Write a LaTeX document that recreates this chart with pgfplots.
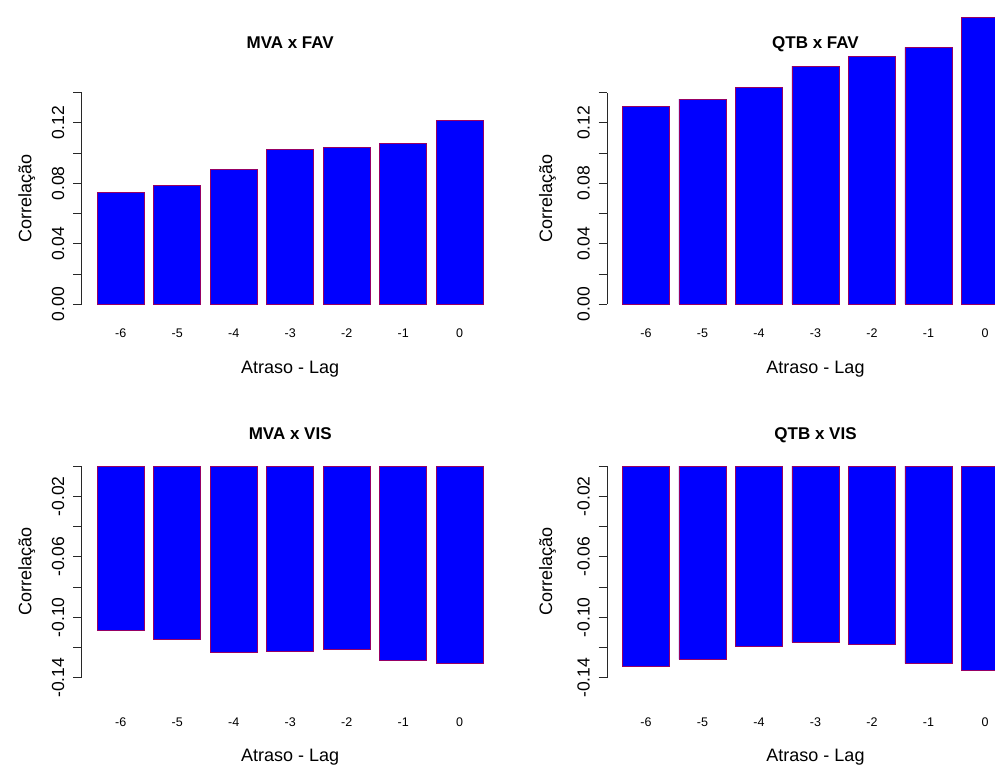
\documentclass[border=0pt]{standalone}
\usepackage{fontspec}
\setmainfont{Liberation Sans}
\usepackage{pgfplots}
\pgfplotsset{compat=1.18}
\definecolor{barblue}{RGB}{0,0,255}
\definecolor{barborder}{RGB}{150,0,100}
\definecolor{axisgray}{RGB}{40,40,40}
\tikzset{
  rtitle/.style={at={(axis description cs:0.5,1)}, anchor=center, text height=12.2pt, text depth=0pt, inner sep=0pt, yshift=#1, font=\bfseries\fontsize{17}{20}\selectfont},
}
\pgfplotsset{
  rpanel/.style={
    scale only axis, width=417pt, height=211.6pt,
    xmin=-0.69, xmax=6.69,
    axis x line*=bottom, axis y line*=left,
    x axis line style={draw=none},
    y axis line style={axisgray, line width=0.9pt},
    xtick={0,1,2,3,4,5,6}, xticklabels={-6,-5,-4,-3,-2,-1,0},
    xtick style={draw=none},
    ytick style={axisgray, line width=0.9pt},
    tick align=outside, major tick length=8.5pt, minor tick num=0,
    xticklabel style={font=\fontsize{12.5}{14}\selectfont, text height=9pt, text depth=0pt, inner sep=0pt, anchor=center, yshift=-19.9pt},
    yticklabel style={font=\fontsize{17.5}{20}\selectfont, xshift=-15pt, rotate=90, anchor=center},
    enlargelimits=false, clip=false,
    ybar, bar width=0.8333,
    xlabel={Atraso - Lag}, ylabel={Correlação},
  },
  rbar/.style={fill=barblue, draw=barborder, line width=0.75pt},
}
\begin{document}
\begin{tikzpicture}
\path[use as bounding box] (0pt,0pt) rectangle (995pt,765pt);
\clip (0pt,0pt) rectangle (995pt,765pt);

% Panel 1: MVA x FAV
\begin{axis}[rpanel, at={(81.7pt,460.7pt)}, anchor=south west,
  ymin=0, ymax=0.14,
  ytick={0,0.02,0.04,0.06,0.08,0.1,0.12,0.14},
  yticklabels={0.00,{},0.04,{},0.08,{},0.12,{}},
  title={MVA x FAV},
  every axis title/.style={rtitle=50pt},
  every axis x label/.style={at={(axis description cs:0.5,0)}, anchor=center, yshift=-64.5pt, font=\fontsize{18}{21}\selectfont},
  every axis y label/.style={at={([xshift=-55pt]axis description cs:0,0.5)}, rotate=90, anchor=center, font=\fontsize{18}{21}\selectfont},
]
\addplot[rbar] coordinates {(0,0.0742) (1,0.0788) (2,0.0894) (3,0.1026) (4,0.1035) (5,0.1065) (6,0.1215)};
\end{axis}

% Panel 2: QTB x FAV
\begin{axis}[rpanel, at={(607pt,460.8pt)}, anchor=south west,
  ymin=0, ymax=0.14,
  ytick={0,0.02,0.04,0.06,0.08,0.1,0.12,0.14},
  yticklabels={0.00,{},0.04,{},0.08,{},0.12,{}},
  title={QTB x FAV},
  every axis title/.style={rtitle=50pt},
  every axis x label/.style={at={(axis description cs:0.5,0)}, anchor=center, yshift=-64.5pt, font=\fontsize{18}{21}\selectfont},
  every axis y label/.style={at={([xshift=-59.5pt]axis description cs:0,0.5)}, rotate=90, anchor=center, font=\fontsize{18}{21}\selectfont},
]
\addplot[rbar] coordinates {(0,0.1306) (1,0.1357) (2,0.1436) (3,0.1575) (4,0.1641) (5,0.1699) (6,0.1897)};
\end{axis}

% Panel 3: MVA x VIS
\begin{axis}[rpanel, at={(81.7pt,87.3pt)}, anchor=south west,
  ymin=-0.14, ymax=0,
  ytick={-0.14,-0.12,-0.1,-0.08,-0.06,-0.04,-0.02,0},
  yticklabels={-0.14,{},-0.10,{},-0.06,{},-0.02,{}},
  xticklabel style={yshift=-15.6pt},
  title={MVA x VIS},
  every axis title/.style={rtitle=33pt},
  every axis x label/.style={at={(axis description cs:0.5,0)}, anchor=center, yshift=-79pt, font=\fontsize{18}{21}\selectfont},
  every axis y label/.style={at={([xshift=-55pt]axis description cs:0,0.5)}, rotate=90, anchor=center, font=\fontsize{18}{21}\selectfont},
]
\addplot[rbar] coordinates {(0,-0.1086) (1,-0.1145) (2,-0.1231) (3,-0.1225) (4,-0.1211) (5,-0.1284) (6,-0.1306)};
\end{axis}

% Panel 4: QTB x VIS
\begin{axis}[rpanel, at={(607pt,87.3pt)}, anchor=south west,
  ymin=-0.14, ymax=0,
  ytick={-0.14,-0.12,-0.1,-0.08,-0.06,-0.04,-0.02,0},
  yticklabels={-0.14,{},-0.10,{},-0.06,{},-0.02,{}},
  xticklabel style={yshift=-15.6pt},
  title={QTB x VIS},
  every axis title/.style={rtitle=33pt},
  every axis x label/.style={at={(axis description cs:0.5,0)}, anchor=center, yshift=-79pt, font=\fontsize{18}{21}\selectfont},
  every axis y label/.style={at={([xshift=-59.5pt]axis description cs:0,0.5)}, rotate=90, anchor=center, font=\fontsize{18}{21}\selectfont},
]
\addplot[rbar] coordinates {(0,-0.1328) (1,-0.1278) (2,-0.1196) (3,-0.1167) (4,-0.1180) (5,-0.1306) (6,-0.1351)};
\end{axis}
\end{tikzpicture}
\end{document}
